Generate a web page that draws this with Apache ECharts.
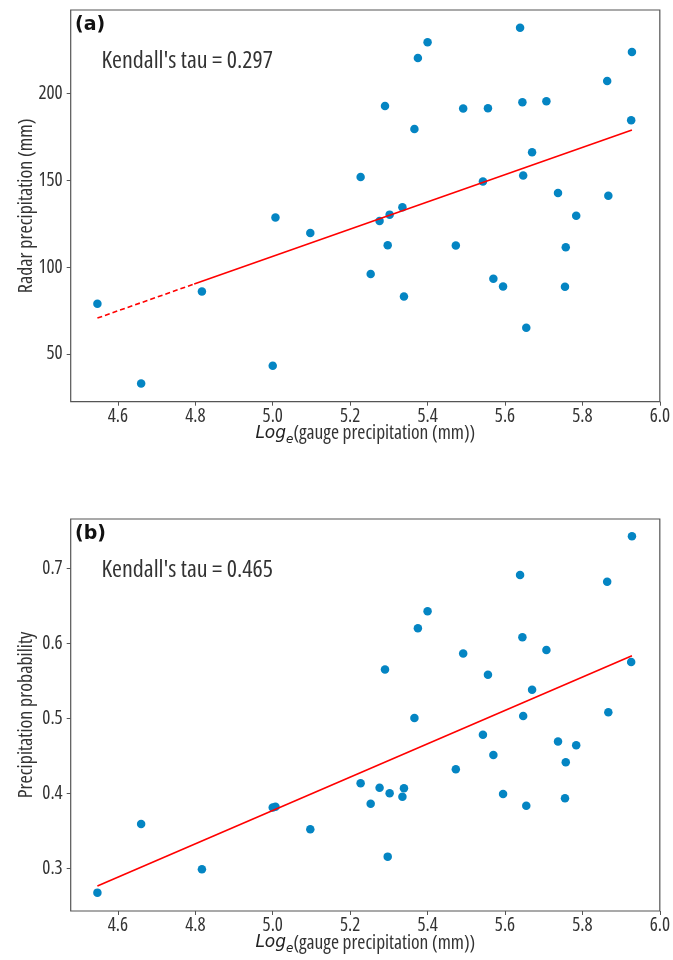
<!DOCTYPE html>
<html><head><meta charset="utf-8">
<script src="https://cdn.jsdelivr.net/npm/echarts@6/dist/echarts.min.js"></script>
<style>html,body{margin:0;padding:0;background:#fff}#c{width:673px;height:960px}</style>
</head><body><div id="c"></div>
<script>
// Log_e(gauge precipitation (mm)) for each gauge
const gaugeLog = [4.547, 4.66, 4.817, 5.0, 5.007, 5.097, 5.227, 5.253, 5.276, 5.290, 5.297, 5.302, 5.335, 5.339, 5.366, 5.375, 5.400, 5.473, 5.492, 5.543, 5.556, 5.570, 5.595, 5.639, 5.645, 5.647, 5.655, 5.670, 5.707, 5.737, 5.755, 5.757, 5.784, 5.864, 5.867, 5.926, 5.928];
// (a) radar precipitation (mm)
const radarPrecip = [78.9, 33, 86, 43.3, 128.5, 119.7, 151.9, 96.1, 126.6, 192.7, 112.6, 130.2, 134.5, 83.1, 179.5, 220.3, 229.3, 112.4, 191.2, 149.2, 191.4, 93.3, 88.9, 237.7, 194.8, 152.7, 65.1, 166.1, 195.4, 142.7, 88.7, 111.5, 129.5, 207.1, 141, 184.5, 223.7];
// (b) precipitation probability
const precipProb = [0.2675, 0.359, 0.2987, 0.381, 0.382, 0.352, 0.4133, 0.386, 0.4075, 0.565, 0.3155, 0.400, 0.3955, 0.4067, 0.5004, 0.620, 0.6427, 0.432, 0.5862, 0.478, 0.558, 0.451, 0.399, 0.691, 0.608, 0.503, 0.3835, 0.538, 0.591, 0.469, 0.3933, 0.4413, 0.464, 0.682, 0.508, 0.575, 0.7427];
// fitted lines
const fitAX = [4.547, 4.797, 5.928];
const fitAY = [70.7, 90.3, 178.9];
const fitBX = [4.547, 5.928];
const fitBY = [0.2764, 0.5834];
// tick labels
const xTicks = [4.6, 4.8, 5.0, 5.2, 5.4, 5.6, 5.8, 6.0];
const yTicksA = [50, 100, 150, 200];
const yTicksB = [0.3, 0.4, 0.5, 0.6, 0.7];
const tauA = "Kendall's tau = 0.297";
const tauB = "Kendall's tau = 0.465";

const FONT = "'Open Sans','DejaVu Sans Condensed',sans-serif";
const STRETCH = 'condensed';
const TXT = '#333';
const AX = '#555';
const DOT = '#0485c3';

function xAxis(gi) {
  return {
    type: 'value', gridIndex: gi, min: 4.478, max: 6.0,
    splitLine: {show: false}, axisLine: {show: false},
    axisTick: {show: true, length: 4, lineStyle: {color: AX, width: 1}, customValues: xTicks},
    axisLabel: {customValues: xTicks, formatter: v => v.toFixed(1), fontSize: 19, fontWeight: STRETCH, color: TXT, fontFamily: FONT, margin: 5},
    name: '{it|Log}{sub|e}{n|(gauge precipitation (mm))}',
    nameLocation: 'middle', nameGap: 20, nameMoveOverlap: false,
    nameTextStyle: {
      rich: {
        it: {fontFamily: 'DejaVu Sans', fontStyle: 'italic', fontSize: 17, color: '#222', lineHeight: 24, verticalAlign: 'middle'},
        sub: {fontFamily: 'DejaVu Sans', fontStyle: 'italic', fontSize: 12, color: '#222', lineHeight: 12, verticalAlign: 'bottom'},
        n: {fontFamily: FONT, fontWeight: STRETCH, fontSize: 19.5, color: TXT, lineHeight: 24, verticalAlign: 'middle'}
      }
    }
  };
}
function yAxis(gi, min, max, ticks, name, fmt) {
  return {
    type: 'value', gridIndex: gi, min: min, max: max,
    splitLine: {show: false}, axisLine: {show: false},
    axisTick: {show: true, length: 4, lineStyle: {color: AX, width: 1}, customValues: ticks},
    axisLabel: {customValues: ticks, formatter: fmt, fontSize: 19, fontWeight: STRETCH, color: TXT, fontFamily: FONT, margin: 8},
    name: name, nameLocation: 'middle', nameGap: 34, nameMoveOverlap: false,
    nameTextStyle: {fontFamily: FONT, fontWeight: STRETCH, fontSize: 20, color: TXT}
  };
}

const chart = echarts.init(document.getElementById('c'), null, {renderer: 'canvas'});
chart.setOption({
  animation: false,
  backgroundColor: '#fff',
  grid: [
    {left: 70.7, right: 10.3, top: 10, bottom: 558.3, show: true, borderColor: AX, borderWidth: 1.2, backgroundColor: 'transparent'},
    {left: 70.7, right: 10.3, top: 519, bottom: 49, show: true, borderColor: AX, borderWidth: 1.2, backgroundColor: 'transparent'}
  ],
  xAxis: [xAxis(0), xAxis(1)],
  yAxis: [
    yAxis(0, 22.6, 247.9, yTicksA, 'Radar precipitation (mm)', v => String(v)),
    yAxis(1, 0.243, 0.7657, yTicksB, 'Precipitation probability', v => v.toFixed(1))
  ],
  series: [
    {type: 'scatter', xAxisIndex: 0, yAxisIndex: 0, symbolSize: 8.5, itemStyle: {color: DOT, opacity: 1}, z: 2,
     data: gaugeLog.map((x, i) => [x, radarPrecip[i]])},
    {type: 'line', xAxisIndex: 0, yAxisIndex: 0, symbol: 'none', z: 3,
     lineStyle: {color: '#ff0000', width: 1.6, type: [5, 3]},
     data: [[fitAX[0], fitAY[0]], [fitAX[1], fitAY[1]]]},
    {type: 'line', xAxisIndex: 0, yAxisIndex: 0, symbol: 'none', z: 3,
     lineStyle: {color: '#ff0000', width: 1.6},
     data: [[fitAX[1], fitAY[1]], [fitAX[2], fitAY[2]]]},
    {type: 'scatter', xAxisIndex: 1, yAxisIndex: 1, symbolSize: 8.5, itemStyle: {color: DOT, opacity: 1}, z: 2,
     data: gaugeLog.map((x, i) => [x, precipProb[i]])},
    {type: 'line', xAxisIndex: 1, yAxisIndex: 1, symbol: 'none', z: 3,
     lineStyle: {color: '#ff0000', width: 1.6},
     data: fitBX.map((x, i) => [x, fitBY[i]])}
  ],
  graphic: [
    {type: 'text', x: 75, y: 25.5, style: {text: '(a)', fontFamily: 'DejaVu Sans', fontWeight: 'bold', fontSize: 19, fill: '#111', verticalAlign: 'middle'}},
    {type: 'text', x: 101.5, y: 61, style: {text: tauA, fontFamily: FONT, fontWeight: STRETCH, fontSize: 24, fill: TXT, verticalAlign: 'middle'}},
    {type: 'text', x: 75, y: 534.5, style: {text: '(b)', fontFamily: 'DejaVu Sans', fontWeight: 'bold', fontSize: 19, fill: '#111', verticalAlign: 'middle'}},
    {type: 'text', x: 101.5, y: 570, style: {text: tauB, fontFamily: FONT, fontWeight: STRETCH, fontSize: 24, fill: TXT, verticalAlign: 'middle'}}
  ]
});
</script>
</body></html>
